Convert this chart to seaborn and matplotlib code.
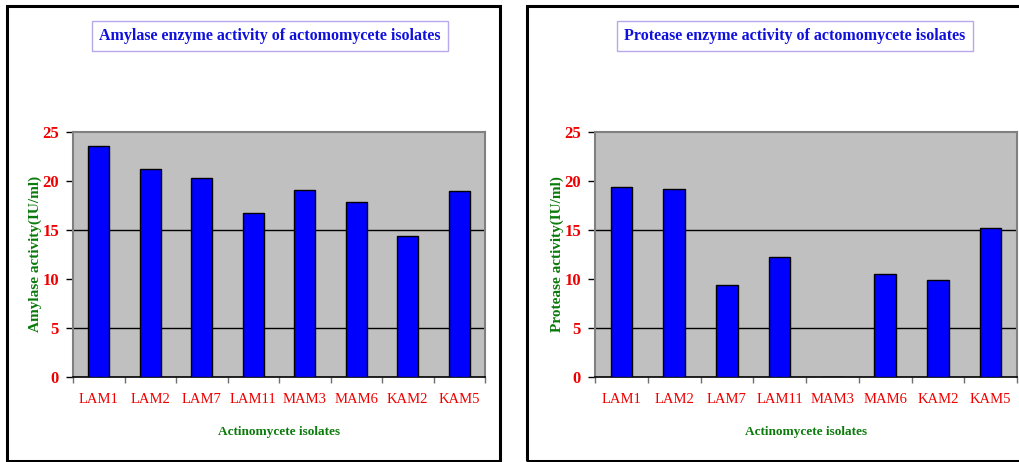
import matplotlib
matplotlib.use("Agg")
import matplotlib.pyplot as plt
from matplotlib.patches import Rectangle
from matplotlib.ticker import FixedLocator
import numpy as np
import pandas as pd
import seaborn as sns

isolates = ["LAM1", "LAM2", "LAM7", "LAM11", "MAM3", "MAM6", "KAM2", "KAM5"]
amylase = [23.5, 21.2, 20.3, 16.7, 19.0, 17.8, 14.4, 18.9]
protease = [19.4, 19.2, 9.4, 12.2, 0.0, 10.5, 9.9, 15.2]
y_ticks = [0, 5, 10, 15, 20, 25]

titles = ["Amylase enzyme activity of actomomycete isolates",
          "Protease enzyme activity of actomomycete isolates"]
y_labels = ["Amylase activity(IU/ml)", "Protease activity(IU/ml)"]
x_label = "Actinomycete isolates"

sns.set_style("white")
plt.rcParams["font.family"] = ["Liberation Serif", "DejaVu Serif"]

W, H = 1019, 462
fig = plt.figure(figsize=(W / 100, H / 100), dpi=100)

RED = "#ee0000"
GREEN = "#0a7a0a"
BLUE_TXT = "#1010dd"


def fx(px):
    return px / W


def fy(py):
    return 1 - py / H


panels = [
    dict(values=amylase, ax=(73, 485), frame=(7, 500), title_x=270),
    dict(values=protease, ax=(595, 1017), frame=(527, 1040), title_x=795),
]

top_px, bot_px = 131.7, 376.7

for i, p in enumerate(panels):
    # outer chart frame
    x0, x1 = p["frame"]
    fig.patches.append(Rectangle((fx(x0), fy(461)), fx(x1 - x0), (461 - 6) / H,
                                 transform=fig.transFigure, fill=False,
                                 edgecolor="black", linewidth=2.2, zorder=0))

    a0, a1 = p["ax"]
    ax = fig.add_axes([fx(a0), fy(bot_px), fx(a1 - a0), (bot_px - top_px) / H])
    df = pd.DataFrame({"isolate": isolates, "activity": p["values"]})
    sns.barplot(data=df, x="isolate", y="activity", ax=ax, color="#0000ff",
                saturation=1, width=0.41, edgecolor="black", linewidth=1.0,
                zorder=3)

    ax.set_facecolor("#c0c0c0")
    ax.set_xlim(-0.5, len(isolates) - 0.5)
    ax.set_ylim(0, 25)
    ax.set_yticks(y_ticks)
    ax.set_yticklabels([str(t) for t in y_ticks], color=RED,
                       fontweight="bold", fontsize=12)
    ax.set_xticks(range(len(isolates)))
    ax.set_xticklabels(isolates, color=RED, fontsize=10.5)
    ax.xaxis.set_minor_locator(FixedLocator(np.arange(-0.5, len(isolates), 1.0)))
    ax.tick_params(axis="x", which="major", length=0, pad=12)
    ax.tick_params(axis="x", which="minor", length=4, width=1,
                   color="#707070", direction="out", bottom=True)
    ax.tick_params(axis="y", which="major", length=5, width=1,
                   color="black", direction="out", left=True, pad=5)

    ax.grid(axis="y", color="black", linewidth=1.0, zorder=1)
    for val, gl in zip(y_ticks, ax.yaxis.get_gridlines()):
        if val not in (5, 15):
            gl.set_visible(False)
    ax.set_axisbelow(True)

    for side in ("top", "right", "left"):
        ax.spines[side].set_color("#808080")
        ax.spines[side].set_linewidth(1.5)
    ax.spines["bottom"].set_color("black")
    ax.spines["bottom"].set_linewidth(1.2)

    ax.set_xlabel(x_label, color=GREEN, fontweight="bold", fontsize=9.5,
                  labelpad=14)
    ax.set_ylabel(y_labels[i], color=GREEN, fontweight="bold", fontsize=11,
                  labelpad=0)

    fig.text(fx(p["title_x"]), fy(36), titles[i], ha="center", va="center",
             color=BLUE_TXT, fontweight="bold", fontsize=11.5,
             bbox=dict(boxstyle="square,pad=0.45", facecolor="white",
                       edgecolor="#b8a8ec", linewidth=1.0))

fig.savefig("out.png", dpi=100)
